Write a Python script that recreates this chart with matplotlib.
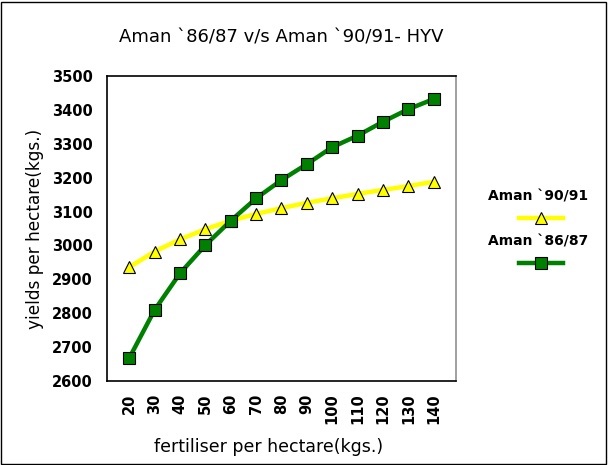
import matplotlib
matplotlib.use("Agg")
import matplotlib.pyplot as plt
from matplotlib.lines import Line2D
from matplotlib.patches import Rectangle

plt.rcParams['font.family'] = ['DejaVu Sans']

fertiliser = ["20", "30", "40", "50", "60", "70", "80", "90", "100", "110", "120", "130", "140"]
aman_9091 = [2936, 2982, 3018, 3048, 3073, 3093, 3110, 3126, 3139, 3152, 3164, 3175, 3188]
aman_8687 = [2668, 2810, 2918, 3001, 3073, 3139, 3193, 3240, 3290, 3324, 3365, 3402, 3432]
yticks = [2600, 2700, 2800, 2900, 3000, 3100, 3200, 3300, 3400, 3500]

W, H = 608, 465
fig = plt.figure(figsize=(W / 100, H / 100), dpi=100)
ax = fig.add_axes([107 / W, 1 - 381 / H, (456 - 107) / W, (381 - 76) / H])

x = list(range(len(fertiliser)))
ax.plot(x, aman_9091, color="#FFFF00", lw=3.2, marker="^", markersize=9,
        markerfacecolor="#FFFF00", markeredgecolor="black", markeredgewidth=0.8, zorder=2)
ax.plot(x, aman_8687, color="#008000", lw=3.2, marker="s", markersize=9,
        markerfacecolor="#008000", markeredgecolor="black", markeredgewidth=0.8, zorder=3)

ax.set_xlim(-0.88, len(fertiliser) - 1 + 0.88)
ax.set_ylim(2600, 3500)
ax.set_xticks(x)
ax.set_xticklabels(fertiliser, rotation=90, fontweight="bold", fontsize=10.5)
ax.set_yticks(yticks)
ax.set_yticklabels([str(v) for v in yticks], fontweight="bold", fontsize=10.5)
ax.tick_params(axis="both", length=0)
ax.tick_params(axis="y", pad=10)
ax.tick_params(axis="x", pad=9)
for s in ax.spines.values():
    s.set_color("black")
    s.set_linewidth(1.2)
ax.spines["right"].set_color("#909090")

ax.set_xlabel("fertiliser per hectare(kgs.)", fontsize=12.5)
ax.xaxis.set_label_coords(0.464, -0.187)
ax.set_ylabel("yields per hectare(kgs.)", fontsize=12.2)
ax.yaxis.set_label_coords(-0.18, 0.5)
fig.text(281.5 / W, 1 - 37 / H, "Aman `86/87 v/s Aman `90/91- HYV", fontsize=13,
         ha="center", va="center")

# legend (manual, labels above handles)
fig.text(538 / W, 1 - 197 / H, "Aman `90/91", fontsize=10, fontweight="bold",
         ha="center", va="center")
fig.add_artist(Line2D([519 / W, 563 / W], [1 - 218 / H, 1 - 218 / H], color="#FFFF00", lw=3.2,
                      transform=fig.transFigure))
fig.add_artist(Line2D([541 / W], [1 - 218 / H], marker="^", markersize=9, color="#FFFF00",
                      markeredgecolor="black", markeredgewidth=0.8, transform=fig.transFigure))
fig.text(538 / W, 1 - 241 / H, "Aman `86/87", fontsize=10, fontweight="bold",
         ha="center", va="center")
fig.add_artist(Line2D([519 / W, 563 / W], [1 - 263 / H, 1 - 263 / H], color="#008000", lw=3.2,
                      transform=fig.transFigure))
fig.add_artist(Line2D([541 / W], [1 - 263 / H], marker="s", markersize=9, color="#008000",
                      markeredgecolor="black", markeredgewidth=0.8, transform=fig.transFigure))

fig.add_artist(Rectangle((1 / W, 1 / H), 1 - 3 / W, 1 - 3 / H, fill=False, edgecolor="black",
                         lw=1, transform=fig.transFigure))

fig.savefig("out.png", dpi=100)
